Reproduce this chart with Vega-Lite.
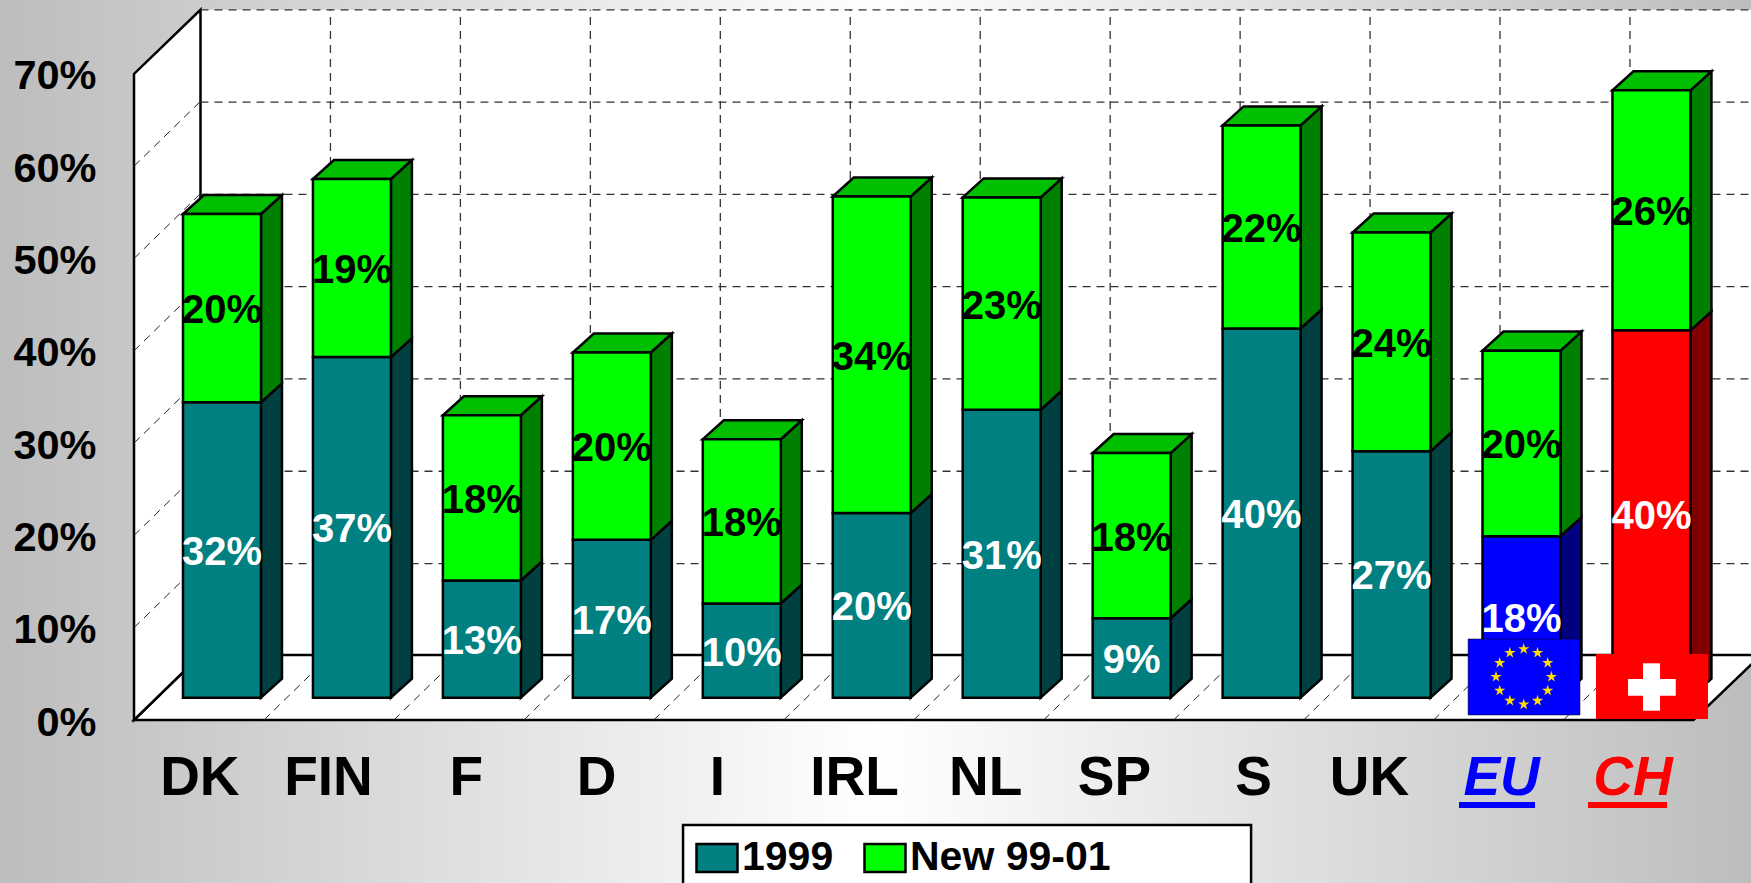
{"width":1751,"height":883,"padding":0,"autosize":{"type":"none"},"background":"#cccccc","config":{"view":{"stroke":null},"font":"Liberation Sans"},
"data":{"name":"bars"},
"datasets":{"bars":[
{"country":"DK","series":"1999","value":32,"label":"32%"},{"country":"DK","series":"New 99-01","value":20.4,"label":"20%"},
{"country":"FIN","series":"1999","value":36.9,"label":"37%"},{"country":"FIN","series":"New 99-01","value":19.3,"label":"19%"},
{"country":"F","series":"1999","value":12.7,"label":"13%"},{"country":"F","series":"New 99-01","value":17.9,"label":"18%"},
{"country":"D","series":"1999","value":17.1,"label":"17%"},{"country":"D","series":"New 99-01","value":20.3,"label":"20%"},
{"country":"I","series":"1999","value":10.2,"label":"10%"},{"country":"I","series":"New 99-01","value":17.8,"label":"18%"},
{"country":"IRL","series":"1999","value":20,"label":"20%"},{"country":"IRL","series":"New 99-01","value":34.3,"label":"34%"},
{"country":"NL","series":"1999","value":31.2,"label":"31%"},{"country":"NL","series":"New 99-01","value":23,"label":"23%"},
{"country":"SP","series":"1999","value":8.6,"label":"9%"},{"country":"SP","series":"New 99-01","value":17.9,"label":"18%"},
{"country":"S","series":"1999","value":40,"label":"40%"},{"country":"S","series":"New 99-01","value":22,"label":"22%"},
{"country":"UK","series":"1999","value":26.7,"label":"27%"},{"country":"UK","series":"New 99-01","value":23.7,"label":"24%"},
{"country":"EU","series":"1999","value":17.5,"label":"18%"},{"country":"EU","series":"New 99-01","value":20.1,"label":"20%"},
{"country":"CH","series":"1999","value":39.8,"label":"40%"},{"country":"CH","series":"New 99-01","value":26,"label":"26%"}
],
"one":[{}],
"levels":[{"pct":10},{"pct":20},{"pct":30},{"pct":40},{"pct":50},{"pct":60},{"pct":70}],
"slots":[{"slot":1},{"slot":2},{"slot":3},{"slot":4},{"slot":5},{"slot":6},{"slot":7},{"slot":8},{"slot":9},{"slot":10},{"slot":11}],
"stars":[{"star":0},{"star":1},{"star":2},{"star":3},{"star":4},{"star":5},{"star":6},{"star":7},{"star":8},{"star":9},{"star":10},{"star":11}]},
"transform":[
{"window":[{"op":"sum","field":"value","as":"y1"}],"groupby":["country"],"sort":[{"field":"series","order":"ascending"}]},
{"calculate":"datum.y1-datum.value","as":"y0"},
{"calculate":"indexof(['DK','FIN','F','D','I','IRL','NL','SP','S','UK','EU','CH'],datum.country)","as":"idx"},
{"calculate":"datum.idx+0.377","as":"L"},{"calculate":"datum.idx+0.977","as":"R"},
{"calculate":"datum.y0+2.42","as":"b"},{"calculate":"datum.y1+2.42","as":"t"},
{"calculate":"(datum.L+datum.R)/2","as":"mx"},{"calculate":"(datum.b+datum.t)/2","as":"my"},
{"calculate":"datum.series=='1999'&&(datum.country=='EU'||datum.country=='CH')?datum.country+' 1999':datum.series","as":"fk"}
],
"layer":[
{"data":{"name":"one"},"mark":{"type":"rect","color":{"x1":0,"y1":0,"x2":1,"y2":0,"gradient":"linear","stops":[{"offset":0,"color":"#bdbdbd"},{"offset":0.5,"color":"#ffffff"},{"offset":1,"color":"#bdbdbd"}]}},
"encoding":{"x":{"datum":-1.0312,"type":"quantitative","scale":{"domain":[-1.0312,12.443],"nice":false,"zero":false},"title":null,
"axis":{"title":null,"values":[0.503,1.493,2.553,3.555,4.486,5.541,6.549,7.541,8.611,9.503,10.52,11.531],"labelExpr":"['DK','FIN','F','D','I','IRL','NL','SP','S','UK','EU','CH'][floor(datum.value)]","domain":false,"ticks":false,"grid":false,"labelFont":"Liberation Sans","labelFontSize":55,"labelFontWeight":"bold","labelPadding":0,"offset":-106,"labelBaseline":"middle","labelAlign":"center","labelOverlap":false,"labelBound":false,"labelFlush":false,"zindex":1,
"labelColor":{"condition":[{"test":"floor(datum.value)==10","value":"#0000ff"},{"test":"floor(datum.value)==11","value":"#ff0000"}],"value":"#000000"},
"labelFontStyle":{"condition":{"test":"floor(datum.value)>=10","value":"italic"},"value":"normal"}}},
"x2":{"datum":12.443},
"y":{"datum":-17.66,"type":"quantitative","scale":{"domain":[-17.66,78.01],"nice":false,"zero":false},"title":null,
"axis":{"title":null,"values":[0,10,20,30,40,50,60,70],"labelExpr":"datum.value+'%'","domain":false,"ticks":false,"grid":false,"labelFont":"Liberation Sans","labelFontSize":41.5,"labelFontWeight":"bold","labelColor":"#000000","labelPadding":0,"offset":-96,"labelOffset":3,"labelAlign":"right","labelBaseline":"middle","labelOverlap":false,"labelBound":false,"labelFlush":false,"zindex":1}},
"y2":{"datum":78.01}}},
{"data":{"name":"one"},"mark":{"type":"rect","fill":"#ffffff"},"encoding":{"x":{"datum":0.5117,"type":"quantitative","scale":{"domain":[-1.0312,12.443],"nice":false,"zero":false}},"x2":{"datum":12.52},"y":{"datum":7.03,"type":"quantitative","scale":{"domain":[-17.66,78.01],"nice":false,"zero":false}},"y2":{"datum":76.95}}},
{"data":{"name":"one"},"transform":[{"calculate":"[0,0.5117,12,12.52]","as":"xs"},{"calculate":"[0,0,0,7.03]","as":"lo"},{"calculate":"[0,7.03,7.03,7.03]","as":"hi"},{"flatten":["xs","lo","hi"]}],"mark":{"type":"area","orient":"vertical","fill":"#ffffff","stroke":"#000000","strokeWidth":2.5},"encoding":{"x":{"field":"xs","type":"quantitative","scale":{"domain":[-1.0312,12.443],"nice":false,"zero":false}},"y":{"field":"lo","type":"quantitative","stack":null,"scale":{"domain":[-17.66,78.01],"nice":false,"zero":false}},"y2":{"field":"hi"}}},
{"data":{"name":"one"},"transform":[{"calculate":"[0,0.5117]","as":"xs"},{"calculate":"[0,7.03]","as":"lo"},{"calculate":"[70,76.95]","as":"hi"},{"flatten":["xs","lo","hi"]}],"mark":{"type":"area","orient":"vertical","fill":"#ffffff","stroke":"#000000","strokeWidth":2.5},"encoding":{"x":{"field":"xs","type":"quantitative","scale":{"domain":[-1.0312,12.443],"nice":false,"zero":false}},"y":{"field":"lo","type":"quantitative","stack":null,"scale":{"domain":[-17.66,78.01],"nice":false,"zero":false}},"y2":{"field":"hi"}}},
{"data":{"name":"levels"},"transform":[{"calculate":"datum.pct+6.95","as":"yy"}],"mark":{"type":"rule","stroke":"#333333","strokeWidth":1.3,"strokeDash":[8,6]},"encoding":{"x":{"datum":0.5117,"type":"quantitative","scale":{"domain":[-1.0312,12.443],"nice":false,"zero":false}},"x2":{"datum":12.52},"y":{"field":"yy","type":"quantitative","scale":{"domain":[-17.66,78.01],"nice":false,"zero":false}}}},
{"data":{"name":"levels"},"transform":[{"filter":"datum.pct<70"},{"calculate":"datum.pct+7.03","as":"yy"}],"mark":{"type":"rule","stroke":"#222222","strokeWidth":1,"strokeDash":[8,6]},"encoding":{"x":{"datum":0,"type":"quantitative","scale":{"domain":[-1.0312,12.443],"nice":false,"zero":false}},"x2":{"datum":0.5117},"y":{"field":"pct","type":"quantitative","scale":{"domain":[-17.66,78.01],"nice":false,"zero":false}},"y2":{"field":"yy"}}},
{"data":{"name":"slots"},"transform":[{"calculate":"datum.slot+0.5117","as":"xb"}],"mark":{"type":"rule","stroke":"#333333","strokeWidth":1.3,"strokeDash":[8,6]},"encoding":{"x":{"field":"xb","type":"quantitative","scale":{"domain":[-1.0312,12.443],"nice":false,"zero":false}},"y":{"datum":7.03,"type":"quantitative","scale":{"domain":[-17.66,78.01],"nice":false,"zero":false}},"y2":{"datum":76.95}}},
{"data":{"name":"slots"},"transform":[{"calculate":"datum.slot+0.5117","as":"xb"}],"mark":{"type":"rule","stroke":"#222222","strokeWidth":1,"strokeDash":[8,6]},"encoding":{"x":{"field":"slot","type":"quantitative","scale":{"domain":[-1.0312,12.443],"nice":false,"zero":false}},"x2":{"field":"xb"},"y":{"datum":0,"type":"quantitative","scale":{"domain":[-17.66,78.01],"nice":false,"zero":false}},"y2":{"datum":7.03}}},
{"transform":[{"calculate":"[0,1]","as":"k"},{"flatten":["k"]},{"calculate":"datum.R+datum.k*0.1616","as":"xs"},{"calculate":"datum.b+datum.k*2.06","as":"lo"},{"calculate":"datum.t+datum.k*2.06","as":"hi"},{"calculate":"datum.fk+' side'","as":"ck"}],"mark":{"type":"area","orient":"vertical","stroke":"#000000","strokeWidth":2.5,"strokeJoin":"miter"},"encoding":{"x":{"field":"xs","type":"quantitative","scale":{"domain":[-1.0312,12.443],"nice":false,"zero":false}},"y":{"field":"lo","type":"quantitative","stack":null,"scale":{"domain":[-17.66,78.01],"nice":false,"zero":false}},"y2":{"field":"hi"},"detail":{"field":"country"},
"color":{"field":"ck","type":"nominal","scale":{"domain":["1999","New 99-01","EU 1999","CH 1999","1999 side","New 99-01 side","EU 1999 side","CH 1999 side","top"],"range":["#008080","#00ff00","#0000ff","#ff0000","#004040","#008000","#000080","#800000","#00bf00"]}}}},
{"transform":[{"filter":"datum.series!='1999'"},{"calculate":"[datum.L,datum.L+0.1616,datum.R,datum.R+0.1616]","as":"xs"},{"calculate":"[datum.t,datum.t,datum.t,datum.t+2.06]","as":"lo"},{"calculate":"[datum.t,datum.t+2.06,datum.t+2.06,datum.t+2.06]","as":"hi"},{"flatten":["xs","lo","hi"]},{"calculate":"'top'","as":"ck"}],"mark":{"type":"area","orient":"vertical","stroke":"#000000","strokeWidth":2.5,"strokeJoin":"miter"},"encoding":{"x":{"field":"xs","type":"quantitative","scale":{"domain":[-1.0312,12.443],"nice":false,"zero":false}},"y":{"field":"lo","type":"quantitative","stack":null,"scale":{"domain":[-17.66,78.01],"nice":false,"zero":false}},"y2":{"field":"hi"},"detail":{"field":"country"},
"color":{"field":"ck","type":"nominal","scale":{"domain":["1999","New 99-01","EU 1999","CH 1999","1999 side","New 99-01 side","EU 1999 side","CH 1999 side","top"],"range":["#008080","#00ff00","#0000ff","#ff0000","#004040","#008000","#000080","#800000","#00bf00"]}}}},
{"mark":{"type":"rect","stroke":"#000000","strokeWidth":2.5},"encoding":{"x":{"field":"L","type":"quantitative","scale":{"domain":[-1.0312,12.443],"nice":false,"zero":false}},"x2":{"field":"R"},"y":{"field":"b","type":"quantitative","scale":{"domain":[-17.66,78.01],"nice":false,"zero":false}},"y2":{"field":"t"},
"color":{"field":"fk","type":"nominal","title":null,"scale":{"domain":["1999","New 99-01","EU 1999","CH 1999","1999 side","New 99-01 side","EU 1999 side","CH 1999 side","top"],"range":["#008080","#00ff00","#0000ff","#ff0000","#004040","#008000","#000080","#800000","#00bf00"]},
"legend":{"values":["1999","New 99-01"],"orient":"none","legendX":695,"legendY":836,"direction":"horizontal","columns":2,"title":null,"padding":0,"labelFont":"Liberation Sans","labelFontSize":41,"labelFontWeight":"bold","labelColor":"#000000","labelOffset":3,"columnPadding":25,"symbolType":"M-1,-0.68H1V0.68H-1Z","symbolSize":1681,"symbolStrokeColor":"#000000","symbolStrokeWidth":2.5,"symbolOpacity":1,"labelLimit":400,"zindex":3}}}},
{"data":{"name":"one"},"mark":{"type":"rect","fill":"#0000ff","stroke":"#000000","strokeWidth":0.5},"encoding":{"x":{"datum":10.266,"type":"quantitative","scale":{"domain":[-1.0312,12.443],"nice":false,"zero":false}},"x2":{"datum":11.127},"y":{"datum":0.542,"type":"quantitative","scale":{"domain":[-17.66,78.01],"nice":false,"zero":false}},"y2":{"datum":8.776}}},
{"data":{"name":"stars"},"transform":[{"calculate":"10.694+0.2132*sin(datum.star*PI/6)","as":"sx"},{"calculate":"4.69+3*cos(datum.star*PI/6)","as":"sy"}],"mark":{"type":"point","filled":true,"opacity":1,"fill":"#ffdc00","shape":"M0,-1L.22,-.31L.95,-.31L.36,.12L.59,.81L0,.38L-.59,.81L-.36,.12L-.95,-.31L-.22,-.31Z","size":140},"encoding":{"x":{"field":"sx","type":"quantitative","scale":{"domain":[-1.0312,12.443],"nice":false,"zero":false}},"y":{"field":"sy","type":"quantitative","scale":{"domain":[-17.66,78.01],"nice":false,"zero":false}}}},
{"data":{"name":"one"},"mark":{"type":"rect","fill":"#ff0000"},"encoding":{"x":{"datum":11.25,"type":"quantitative","scale":{"domain":[-1.0312,12.443],"nice":false,"zero":false}},"x2":{"datum":12.112},"y":{"datum":0.108,"type":"quantitative","scale":{"domain":[-17.66,78.01],"nice":false,"zero":false}},"y2":{"datum":7.15}}},
{"data":{"name":"one"},"mark":{"type":"rect","fill":"#ffffff"},"encoding":{"x":{"datum":11.612,"type":"quantitative","scale":{"domain":[-1.0312,12.443],"nice":false,"zero":false}},"x2":{"datum":11.743},"y":{"datum":1.008,"type":"quantitative","scale":{"domain":[-17.66,78.01],"nice":false,"zero":false}},"y2":{"datum":6.143}}},
{"data":{"name":"one"},"mark":{"type":"rect","fill":"#ffffff"},"encoding":{"x":{"datum":11.497,"type":"quantitative","scale":{"domain":[-1.0312,12.443],"nice":false,"zero":false}},"x2":{"datum":11.864},"y":{"datum":2.633,"type":"quantitative","scale":{"domain":[-17.66,78.01],"nice":false,"zero":false}},"y2":{"datum":4.442}}},
{"transform":[{"filter":"datum.series=='1999'"}],"mark":{"type":"text","font":"Liberation Sans","fontSize":40,"fontWeight":"bold","fill":"#ffffff","baseline":"middle","align":"center","dy":3},"encoding":{"x":{"field":"mx","type":"quantitative","scale":{"domain":[-1.0312,12.443],"nice":false,"zero":false}},"y":{"field":"my","type":"quantitative","scale":{"domain":[-17.66,78.01],"nice":false,"zero":false}},"text":{"field":"label"}}},
{"transform":[{"filter":"datum.series!='1999'"}],"mark":{"type":"text","font":"Liberation Sans","fontSize":40,"fontWeight":"bold","fill":"#000000","baseline":"middle","align":"center","dy":3},"encoding":{"x":{"field":"mx","type":"quantitative","scale":{"domain":[-1.0312,12.443],"nice":false,"zero":false}},"y":{"field":"my","type":"quantitative","scale":{"domain":[-17.66,78.01],"nice":false,"zero":false}},"text":{"field":"label"}}},
{"data":{"name":"one"},"mark":{"type":"rule","stroke":"#0000ff","strokeWidth":6},"encoding":{"x":{"datum":10.196,"type":"quantitative","scale":{"domain":[-1.0312,12.443],"nice":false,"zero":false}},"x2":{"datum":10.781},"y":{"datum":-9.21,"type":"quantitative","scale":{"domain":[-17.66,78.01],"nice":false,"zero":false}}}},
{"data":{"name":"one"},"mark":{"type":"rule","stroke":"#ff0000","strokeWidth":6},"encoding":{"x":{"datum":11.189,"type":"quantitative","scale":{"domain":[-1.0312,12.443],"nice":false,"zero":false}},"x2":{"datum":11.797},"y":{"datum":-9.21,"type":"quantitative","scale":{"domain":[-17.66,78.01],"nice":false,"zero":false}}}},
{"data":{"name":"one"},"mark":{"type":"rect","fill":"#ffffff","stroke":"#000000","strokeWidth":2.5},"encoding":{"x":{"datum":4.225,"type":"quantitative","scale":{"domain":[-1.0312,12.443],"nice":false,"zero":false}},"x2":{"datum":8.596},"y":{"datum":-11.376,"type":"quantitative","scale":{"domain":[-17.66,78.01],"nice":false,"zero":false}},"y2":{"datum":-20}}}
]}
